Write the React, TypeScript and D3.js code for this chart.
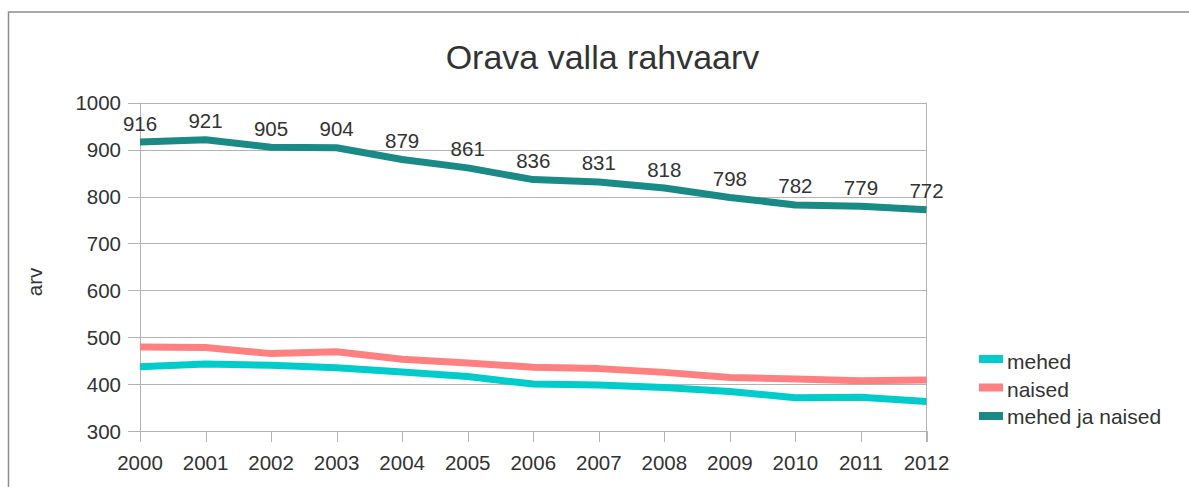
import React from "react";
import * as d3 from "d3";

const years = [2000, 2001, 2002, 2003, 2004, 2005, 2006, 2007, 2008, 2009, 2010, 2011, 2012];
const mehed = [437, 443, 440, 435, 426, 416, 400, 398, 393, 384, 371, 372, 363];
const naised = [479, 478, 465, 469, 453, 445, 436, 433, 425, 414, 411, 407, 409];
const kokku = [916, 921, 905, 904, 879, 861, 836, 831, 818, 798, 782, 779, 772];
const yTicks = [300, 400, 500, 600, 700, 800, 900, 1000];

const seriesNames = ["mehed", "naised", "mehed ja naised"];
const seriesColors = ["#00cccc", "#ff8080", "#1a8a86"];

const W = 1189;
const H = 487;
const FONT = "'Liberation Sans', Arial, sans-serif";
const TXT = "#333333";

export default function App() {
  const x = d3.scaleLinear().domain([2000, 2012]).range([140, 926.5]);
  const y = d3.scaleLinear().domain([300, 1000]).range([431, 102.7]);
  const line = d3
    .line<number>()
    .x((_, i) => x(years[i]))
    .y((d) => y(d));

  const series = [mehed, naised, kokku];

  return (
    <svg
      width={W}
      height={H}
      style={{ position: "absolute", left: 0, top: 0, background: "#fff" }}
      fontFamily={FONT}
    >
      <rect x={0} y={0} width={W} height={H} fill="#ffffff" />
      <rect x={8.5} y={12} width={1200} height={520} fill="none" stroke="#8c8c8c" strokeWidth={1.5} />

      <text x={602.5} y={69} textAnchor="middle" fontSize={34} fill={TXT}>
        Orava valla rahvaarv
      </text>

      {yTicks.map((t) => (
        <g key={t}>
          <line x1={128} x2={926.5} y1={Math.round(y(t)) + 0.5} y2={Math.round(y(t)) + 0.5} stroke="#b3b3b3" strokeWidth={1} />
          <text x={121} y={y(t) + 7.5} textAnchor="end" fontSize={20.5} fill={TXT}>
            {t}
          </text>
        </g>
      ))}
      <line x1={140.5} x2={140.5} y1={y(1000)} y2={442} stroke="#b3b3b3" strokeWidth={1} />
      <line x1={926.5} x2={926.5} y1={y(1000)} y2={442} stroke="#b3b3b3" strokeWidth={1} />
      {years.map((yr) => (
        <g key={yr}>
          <line x1={Math.round(x(yr)) + 0.5} x2={Math.round(x(yr)) + 0.5} y1={431} y2={442} stroke="#b3b3b3" strokeWidth={1} />
          <text x={x(yr)} y={470} textAnchor="middle" fontSize={20.5} fill={TXT}>
            {yr}
          </text>
        </g>
      ))}

      <text
        transform={`translate(42,282) rotate(-90)`}
        textAnchor="middle"
        fontSize={20.5}
        fill={TXT}
      >
        arv
      </text>

      {series.map((s, i) => (
        <path
          key={i}
          d={line(s) || ""}
          fill="none"
          stroke={seriesColors[i]}
          strokeWidth={7}
          strokeLinejoin="round"
        />
      ))}

      {kokku.map((v, i) => (
        <text key={i} x={x(years[i])} y={y(v) - 11.5} textAnchor="middle" fontSize={20.5} fill={TXT}>
          {v}
        </text>
      ))}

      {seriesNames.map((n, i) => (
        <g key={n}>
          <rect x={979} y={355 + i * 28.5} width={24} height={8} fill={seriesColors[i]} />
          <text x={1007} y={369 + i * 27.5} fontSize={21} fill={TXT}>
            {n}
          </text>
        </g>
      ))}
    </svg>
  );
}
